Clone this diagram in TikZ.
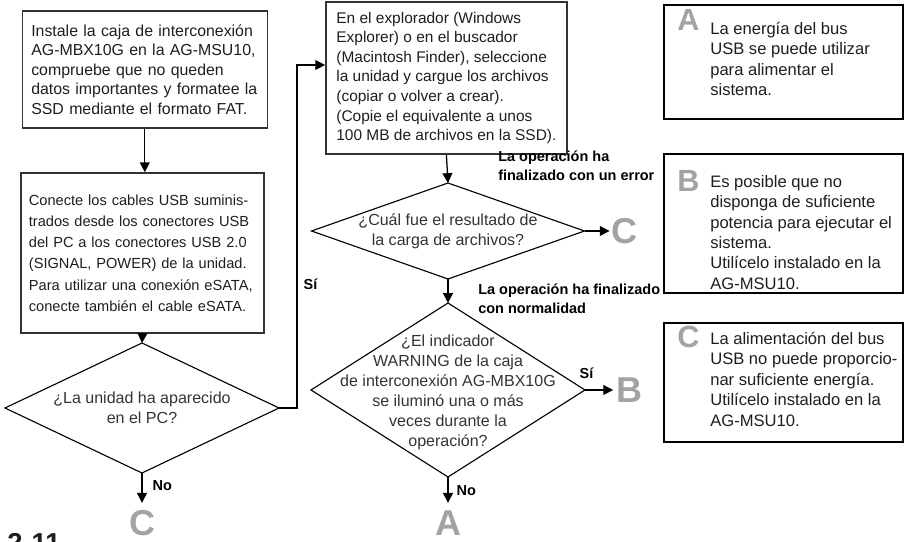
\documentclass[tikz,border=0pt]{standalone}
\usepackage{fontspec}
\setmainfont{Liberation Sans}
\usepackage{tikz}
\usetikzlibrary{arrows.meta,shapes.geometric}

\definecolor{boxline}{HTML}{333333}
\definecolor{markgray}{HTML}{A3A3A3}
\definecolor{ink}{HTML}{1E1E1E}

\begin{document}
\begin{tikzpicture}[>={Triangle[length=7pt,width=7pt]},text=ink,
  font=\fontsize{11.3}{13.9}\selectfont,
  stepbox/.style={draw=boxline,line width=1.05pt,align=left,inner ysep=0pt},
  askbox/.style={draw=black,line width=0.8pt,diamond,inner sep=0pt,outer sep=0pt},
  asktext/.style={align=center,inner sep=0pt,text=black!80,font=\fontsize{11.4}{14.2}\selectfont},
  notebox/.style={draw=black,line width=1.5pt,minimum width=5.975cm,inner sep=0pt},
  notetext/.style={align=left,inner sep=0pt,font=\fontsize{11.8}{14.5}\selectfont},
  bigmark/.style={inner sep=0pt,text=markgray,font=\fontsize{25.6}{26}\selectfont\bfseries},
  notemark/.style={inner sep=0pt,text=markgray,font=\fontsize{21.8}{22}\selectfont\bfseries},
  tag/.style={inner sep=0pt,align=left,text=black,font=\fontsize{10.3}{13.2}\selectfont\bfseries},
  flow/.style={->,line width=0.9pt}]
 \useasboundingbox (0,0) rectangle (22.6,13.55);
 % ---- left column
 \node[stepbox,inner xsep=0.225cm,text width=5.675cm,minimum height=2.925cm] (install) at (3.62,11.81)
  {Instale la caja de interconexión\\AG-MBX10G en la AG-MSU10,\\compruebe que no queden\\datos importantes y formatee la\\SSD mediante el formato FAT.};
 \node[stepbox,inner xsep=0.2cm,text width=5.675cm,minimum height=4.0cm,font=\fontsize{10.4}{15.1}\selectfont] (cables) at (3.56,7.225)
  {Conecte los cables USB suminis-\\trados desde los conectores USB\\del PC a los conectores USB 2.0\\(SIGNAL, POWER) de la unidad.\\Para utilizar una conexión eSATA,\\conecte también el cable eSATA.};
 \node[askbox,minimum width=6.85cm,minimum height=3.25cm,
  label={[asktext]center:¿La unidad ha aparecido\\en el PC?}] (shown) at (3.55,3.35) {};
 \node[bigmark,anchor=north] (markCa) at (3.55,0.8) {C};
 \node[inner sep=0pt,anchor=north west,font=\fontsize{19.5}{20}\selectfont\bfseries] (pagenum) at (0.175,0.225) {2-11};
 % ---- middle column
 \node[stepbox,inner xsep=0pt,minimum width=6.025cm,minimum height=3.8cm,font=\fontsize{11}{13.9}\selectfont] (copy) at (11.16,11.6)
  {En el explorador (Windows\\Explorer) o en el buscador\\(Macintosh Finder), seleccione\\la unidad y cargue los archivos\\(copiar o volver a crear).\\(Copie el equivalente a unos\\100 MB de archivos en la SSD).};
 \node[askbox,minimum width=6.825cm,minimum height=2.4cm,
  label={[asktext]center:¿Cuál fue el resultado de\\la carga de archivos?}] (result) at (11.2,7.775) {};
 \node[askbox,minimum width=6.85cm,minimum height=4.35cm,
  label={[asktext,yshift=-0.05cm]center:¿El indicador\\WARNING de la caja\\de interconexión AG-MBX10G\\se iluminó una o más\\veces durante la\\operación?}] (warning) at (11.2,3.8) {};
 \node[bigmark,anchor=west] (markCb) at (15.275,7.775) {C};
 \node[bigmark,anchor=west] (markB) at (15.4,3.8) {B};
 \node[bigmark,anchor=north] (markA) at (11.2,0.8) {A};
 \node[tag,anchor=west] (failed) at (12.45,9.4) {La operación ha\\finalizado con un error};
 \node[tag,anchor=west] (normal) at (11.95,6.075) {La operación ha finalizado\\con normalidad};
 % ---- connectors
 \draw[flow] (install.south) -- (install.south |- cables.north);
 \draw[flow] (cables.south) -- (shown.north);
 \draw[flow,shorten >=0.18cm] (shown.south) -- node[tag,pos=0.33,right=0.25cm]{No} (markCa.north);
 \draw[flow] (shown.east) -- ++(0.45,0) |- node[tag,pos=0.18,right=0.15cm]{Sí} ([yshift=0.325cm]copy.west);
 \draw[flow] (copy.south) -- (result.north);
 \draw[flow,shorten >=1pt] (result.east) -- (markCb.west);
 \draw[flow] (result.south) -- (warning.north);
 \draw[flow,shorten >=2pt] (warning.east) -- node[tag,pos=0.05,above=0.28cm]{Sí} (markB.west);
 \draw[flow,shorten >=0.18cm] (warning.south) -- node[tag,pos=0.4,right=0.2cm]{No} (markA.north);
 % ---- notes A, B, C
 \node[notebox,minimum height=2.85cm] (noteA) at (19.59,12.0) {};
 \node[notemark,anchor=north west] (noteAmark) at (16.925,13.325) {A};
 \node[notetext,anchor=north west] (noteAtext) at (17.75,13.0)
  {La energía del bus\\USB se puede utilizar\\para alimentar el\\sistema.};
 \node[notebox,minimum height=3.475cm] (noteB) at (19.59,7.96) {};
 \node[notemark,anchor=north west] (noteBmark) at (16.925,9.3) {B};
 \node[notetext,anchor=north west] (noteBtext) at (17.75,9.175)
  {Es posible que no\\disponga de suficiente\\potencia para ejecutar el\\sistema.\\Utilícelo instalado en la\\AG-MSU10.};
 \node[notebox,minimum height=2.975cm] (noteC) at (19.59,3.99) {};
 \node[notemark,anchor=north west] (noteCmark) at (16.925,5.4) {C};
 \node[notetext,anchor=north west] (noteCtext) at (17.75,5.25)
  {La alimentación del bus\\USB no puede proporcio-\\nar suficiente energía.\\Utilícelo instalado en la\\AG-MSU10.};
\end{tikzpicture}
\end{document}
